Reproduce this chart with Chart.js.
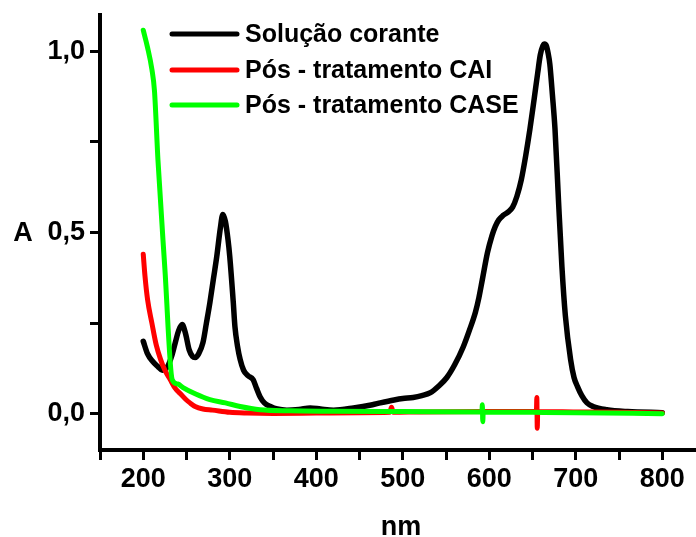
<!DOCTYPE html>
<html>
<head>
<meta charset="utf-8">
<script src="https://cdn.jsdelivr.net/npm/chart.js@4.4.1/dist/chart.umd.min.js"></script>
<style>
	html, body { margin: 0; padding: 0; background: #fff; }
	#wrap { position: relative; width: 696px; height: 537px; }
</style>
</head>
<body>
<div id="wrap"><canvas id="spectra"></canvas></div>
<script>

// absorbance spectra, wavelength in nm
const corante_nm = [200, 205, 211, 217, 222, 228, 233, 237, 241, 245, 249, 253, 257, 260, 264, 269, 273, 277, 281, 285, 289, 292, 295, 298, 300, 304, 306, 309, 312, 316, 321, 327, 331, 335, 340, 347, 355, 366, 380, 393, 405, 420, 443, 465, 474, 490, 500, 512, 522, 532, 541, 551, 560, 570, 577, 584, 588, 592, 598, 603, 607, 611, 616, 622, 627, 632, 637, 642, 647, 652, 656, 659, 662, 664, 666, 668, 670, 673, 676, 680, 684, 688, 694, 698, 702, 707, 713, 720, 736, 760, 800];
const corante_abs = [0.20, 0.165, 0.144, 0.13, 0.12, 0.13, 0.16, 0.196, 0.23, 0.246, 0.22, 0.177, 0.158, 0.155, 0.165, 0.196, 0.25, 0.306, 0.37, 0.434, 0.51, 0.55, 0.53, 0.48, 0.434, 0.31, 0.24, 0.186, 0.15, 0.12, 0.105, 0.094, 0.07, 0.047, 0.03, 0.02, 0.013, 0.01, 0.012, 0.016, 0.013, 0.01, 0.016, 0.025, 0.03, 0.038, 0.042, 0.045, 0.05, 0.058, 0.075, 0.10, 0.135, 0.185, 0.23, 0.28, 0.32, 0.37, 0.445, 0.49, 0.517, 0.535, 0.547, 0.557, 0.57, 0.6, 0.645, 0.71, 0.785, 0.87, 0.94, 0.99, 1.015, 1.02, 1.015, 0.995, 0.965, 0.88, 0.785, 0.59, 0.406, 0.27, 0.15, 0.10, 0.075, 0.05, 0.03, 0.02, 0.011, 0.006, 0.003];

const cai_nm = [200, 202, 205, 210, 215, 220, 225, 231, 237, 243, 249, 254, 260, 269, 280, 300, 320, 350, 400, 450, 485, 487, 489, 520, 600, 654.5, 655, 655.5, 656, 700, 750, 800];
const cai_abs = [0.44, 0.38, 0.315, 0.25, 0.19, 0.15, 0.12, 0.095, 0.07, 0.055, 0.04, 0.03, 0.02, 0.013, 0.01, 0.004, 0.002, 0.001, 0.002, 0.003, 0.004, 0.018, 0.004, 0.005, 0.006, 0.006, 0.045, -0.04, 0.006, 0.005, 0.004, 0.002];

const case_nm = [200, 205, 210, 213, 217, 225, 233.5, 240, 246, 260, 277, 295, 312, 335, 370, 420, 500, 590, 591.5, 592, 592.5, 593, 650, 700, 800];
const case_abs = [1.058, 1.01, 0.95, 0.89, 0.70, 0.40, 0.094, 0.082, 0.072, 0.055, 0.039, 0.03, 0.02, 0.011, 0.008, 0.007, 0.006, 0.005, 0.005, 0.025, -0.022, 0.005, 0.004, 0.003, 0.0];

const series_names = ['Solução corante', 'Pós - tratamento CAI', 'Pós - tratamento CASE'];
const series_colors = ['#000000', '#ff0000', '#00ff00'];

const x_ticks = [150, 200, 250, 300, 350, 400, 450, 500, 550, 600, 650, 700, 750, 800];
const x_labels = [200, 300, 400, 500, 600, 700, 800];
const y_ticks = [0, 0.25, 0.5, 0.75, 1.0];
const y_labels = [0, 0.5, 1.0];

const FONT = 'Arial, "Liberation Sans", sans-serif';

function to_points(xs, ys) {
	const pts = [];
	for ( let i = 0; i < xs.length; i++ ) {
		pts.push({ x: xs[i], y: ys[i] });
	}
	return pts;
}

const all_series = [
	to_points(corante_nm, corante_abs),
	to_points(cai_nm, cai_abs),
	to_points(case_nm, case_abs)
];

const line_widths = [5.5, 5, 5];

const datasets = all_series.map(function (pts, i) {
	return {
		label: series_names[i],
		data: pts,
		borderColor: series_colors[i],
		borderWidth: line_widths[i],
		pointRadius: 0,
		fill: false,
		cubicInterpolationMode: 'monotone',
		borderCapStyle: 'round',
		borderJoinStyle: 'round',
		order: 3 - i // green on top, black underneath
	};
});

// legend + axis titles drawn by hand so they sit where we want them
const extras = {
	id: 'extras',
	afterDraw(chart) {
		const ctx = chart.ctx;
		ctx.save();

		const rows = [34, 70, 105];
		for ( let i = 0; i < rows.length; i++ ) {
			ctx.strokeStyle = series_colors[i];
			ctx.lineWidth = 5;
			ctx.lineCap = 'round';
			ctx.beginPath();
			ctx.moveTo(172, rows[i]);
			ctx.lineTo(237, rows[i]);
			ctx.stroke();

			ctx.fillStyle = '#000';
			ctx.font = 'bold 25px ' + FONT;
			ctx.textAlign = 'left';
			ctx.textBaseline = 'middle';
			ctx.fillText(series_names[i], 245, rows[i] + 1);
		}

		ctx.font = 'bold 27px ' + FONT;
		ctx.textAlign = 'center';
		ctx.textBaseline = 'middle';
		ctx.fillText('A', 23, chart.scales.y.getPixelForValue(0.5) + 1);

		ctx.textBaseline = 'alphabetic';
		ctx.fillText('nm', (chart.chartArea.left + chart.chartArea.right) / 2 + 3, 535);

		ctx.restore();
	}
};

const spectra_ctx = document.getElementById('spectra');

new Chart(spectra_ctx, {
	type: 'line',
	data: { datasets: datasets },
	options: {
		responsive: true,
		maintainAspectRatio: false,
		animation: false,
		layout: { padding: { top: 15, left: 0, right: 0, bottom: 0 } },
		plugins: {
			legend: { display: false },
			tooltip: { enabled: false }
		},
		scales: {
			x: {
				type: 'linear',
				min: 150,
				max: 839,
				afterBuildTicks: function (axis) {
					axis.ticks = x_ticks.map(v => ({ value: v }));
				},
				afterFit: function (axis) {
					axis.height = 87;
					axis.paddingLeft = 0;
					axis.paddingRight = 0;
				},
				border: { display: true, color: '#000', width: 4 },
				grid: { drawOnChartArea: false, drawTicks: true, tickLength: 10, color: '#000', lineWidth: 3 },
				ticks: {
					color: '#000',
					font: { family: FONT, size: 27, weight: 'bold' },
					padding: 3,
					maxRotation: 0,
					autoSkip: false,
					callback: function (value) {
						return x_labels.includes(value) ? String(value) : '';
					}
				}
			},
			y: {
				type: 'linear',
				min: -0.1,
				max: 1.1,
				afterBuildTicks: function (axis) {
					axis.ticks = y_ticks.map(v => ({ value: v }));
				},
				afterFit: function (axis) {
					axis.width = 100;
					axis.paddingTop = 0;
					axis.paddingBottom = 0;
				},
				border: { display: true, color: '#000', width: 4 },
				grid: { drawOnChartArea: false, drawTicks: true, tickLength: 10, color: '#000', lineWidth: 3 },
				ticks: {
					color: '#000',
					font: { family: FONT, size: 27, weight: 'bold' },
					padding: 5,
					autoSkip: false,
					callback: function (value) {
						return y_labels.includes(value) ? value.toFixed(1).replace('.', ',') : '';
					}
				}
			}
		}
	},
	plugins: [extras]
});
</script>
</body>
</html>
